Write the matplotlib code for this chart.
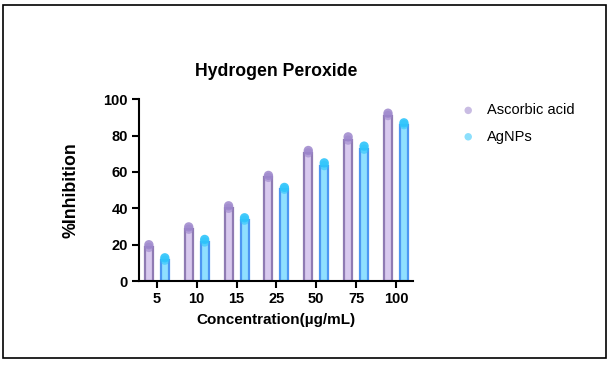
import numpy as np
import matplotlib
matplotlib.use('Agg')
import matplotlib.pyplot as plt
from matplotlib.patches import Rectangle

concentrations = ['5', '10', '15', '25', '50', '75', '100']

# bar heights (means)
ascorbic_mean = [18.5, 28.5, 40.0, 57.0, 70.5, 77.5, 91.0]
agnps_mean = [11.5, 21.5, 33.5, 50.5, 63.5, 72.5, 86.0]

# replicate points sitting on top of the bars
ascorbic_pts = [20.0, 29.8, 41.4, 58.1, 71.8, 79.3, 92.3]
agnps_pts = [12.8, 22.9, 34.8, 51.5, 65.0, 74.2, 87.0]

plt.rcParams['font.family'] = ['Liberation Sans', 'DejaVu Sans']

fig = plt.figure(figsize=(6.12, 3.66), dpi=100)
ax = fig.add_axes([0.227, 0.232, 0.448, 0.497])

# outer frame
fig.patches.append(Rectangle((0.005, 0.022), 0.986, 0.963, transform=fig.transFigure,
                             fill=False, edgecolor='black', linewidth=1.2))

x = np.arange(len(concentrations))
off = 0.2
w = 0.2

ax.bar(x - off, ascorbic_mean, width=w, color='#d8c9ee', edgecolor='#8f7bb3', linewidth=1.6, zorder=2)
ax.bar(x + off, agnps_mean, width=w, color='#8fe0ff', edgecolor='#4d97f2', linewidth=1.6, zorder=2)

ax.scatter(x - off, ascorbic_pts, s=45, color='#9d86cc', alpha=0.85, edgecolors='none', zorder=3,
           label='Ascorbic acid')
ax.scatter(x - off, ascorbic_mean, s=45, color='#9d86cc', alpha=0.6, edgecolors='none', zorder=3)
ax.scatter(x + off, agnps_pts, s=45, color='#2ec5fb', alpha=0.9, edgecolors='none', zorder=3,
           label='AgNPs')
ax.scatter(x + off, agnps_mean, s=45, color='#2ec5fb', alpha=0.6, edgecolors='none', zorder=3)

ax.set_xlim(-0.45, 6.43)
ax.set_ylim(0, 100)
ax.set_yticks([0, 20, 40, 60, 80, 100])
ax.set_xticks(x)
ax.set_xticklabels(concentrations)

for s in ['top', 'right']:
    ax.spines[s].set_visible(False)
for s in ['left', 'bottom']:
    ax.spines[s].set_linewidth(1.5)
ax.tick_params(axis='both', width=1.5, length=5, labelsize=10.5, pad=3)
for lab in ax.get_xticklabels() + ax.get_yticklabels():
    lab.set_fontweight('bold')

ax.set_title('Hydrogen Peroxide', fontsize=12.7, fontweight='bold', pad=17)
ax.set_xlabel('Concentration(µg/mL)', fontsize=11, fontweight='bold', labelpad=5)
ax.set_ylabel('%Inhibition', fontsize=12.8, fontweight='bold', labelpad=17)

leg = ax.legend(loc='upper left', bbox_to_anchor=(1.1, 1.05), frameon=False, fontsize=10.5,
                handletextpad=0.3, labelspacing=0.85, markerscale=0.8)
for h in leg.legend_handles:
    h.set_alpha(0.55)

fig.savefig('out.png', dpi=100)
